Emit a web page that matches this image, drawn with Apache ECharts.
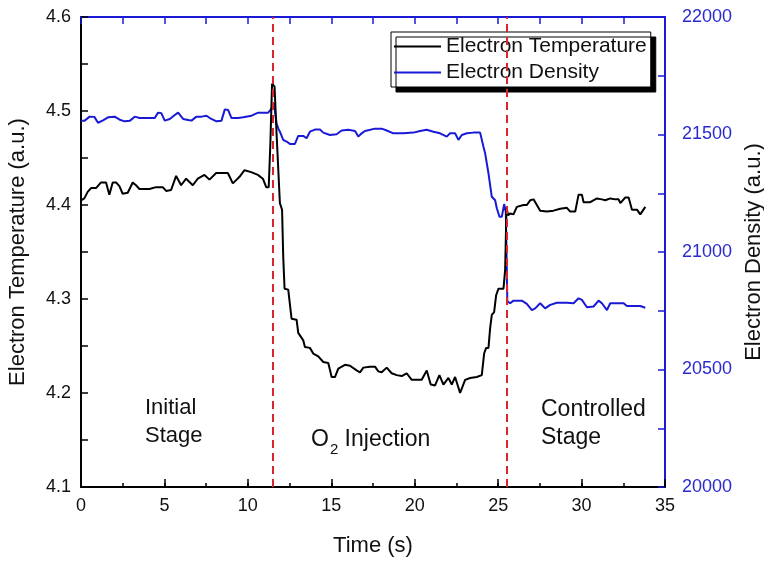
<!DOCTYPE html>
<html>
<head>
<meta charset="utf-8">
<script src="https://cdn.jsdelivr.net/npm/echarts@6/dist/echarts.min.js"></script>
<style>html,body{margin:0;padding:0;background:#fff;overflow:hidden;width:764px;height:563px}#c{position:absolute;left:0;top:0;width:764px;height:563px}</style>
</head>
<body>
<div id="c"></div>
<script>
// Electron temperature (left axis)
var tempTime = [0.0,0.2,0.4,0.6,0.9,1.2,1.5,1.7,1.9,2.1,2.3,2.5,2.8,3.1,3.3,3.5,4.1,4.5,4.9,5.1,5.4,5.7,6.0,6.3,6.7,7.0,7.4,7.7,8.1,8.5,8.8,9.1,9.5,9.8,10.2,10.6,10.9,11.1,11.25,11.35,11.45,11.6,11.72,11.92,12.05,12.12,12.2,12.42,12.62,12.92,13.02,13.32,13.42,13.72,13.92,14.22,14.52,14.82,14.9,15.02,15.22,15.42,15.82,16.12,16.52,16.72,16.92,17.32,17.62,17.82,18.02,18.32,18.62,18.92,19.22,19.52,19.82,20.42,20.72,20.96,21.22,21.48,21.72,22.02,22.22,22.42,22.72,22.82,23.02,23.32,23.72,24.02,24.16,24.28,24.42,24.52,24.62,24.76,24.88,25.02,25.32,25.42,25.5,25.6,25.72,25.92,26.12,26.52,26.72,26.92,27.12,27.32,27.52,27.92,28.32,28.72,29.12,29.32,29.62,29.82,30.02,30.12,30.52,30.92,31.22,31.42,31.72,32.02,32.22,32.32,32.62,32.82,33.02,33.32,33.52,33.62,33.82];
var tempValues = [4.405,4.407,4.414,4.418,4.418,4.424,4.424,4.411,4.424,4.424,4.420,4.412,4.413,4.424,4.421,4.417,4.417,4.419,4.419,4.415,4.416,4.431,4.421,4.428,4.421,4.428,4.432,4.427,4.434,4.434,4.434,4.423,4.430,4.437,4.435,4.432,4.428,4.419,4.419,4.466,4.529,4.526,4.476,4.402,4.395,4.345,4.311,4.310,4.279,4.278,4.264,4.256,4.249,4.248,4.242,4.239,4.233,4.232,4.226,4.217,4.217,4.226,4.230,4.229,4.224,4.222,4.227,4.228,4.228,4.223,4.222,4.227,4.221,4.219,4.218,4.221,4.214,4.214,4.224,4.209,4.208,4.219,4.209,4.216,4.209,4.217,4.200,4.200,4.214,4.216,4.217,4.219,4.242,4.248,4.248,4.269,4.283,4.286,4.304,4.311,4.311,4.331,4.397,4.389,4.391,4.390,4.398,4.400,4.400,4.405,4.406,4.400,4.394,4.393,4.394,4.396,4.397,4.393,4.393,4.411,4.411,4.403,4.403,4.407,4.406,4.405,4.407,4.406,4.406,4.402,4.408,4.408,4.395,4.395,4.390,4.392,4.398];

// Electron density (right axis)
var densTime = [0.0,0.22,0.52,0.8,1.02,1.32,1.62,2.02,2.32,2.62,2.92,3.22,3.52,4.02,4.42,4.62,4.82,5.02,5.32,5.62,5.82,6.12,6.42,6.62,6.92,7.22,7.52,7.72,8.12,8.42,8.62,8.82,9.02,9.42,9.72,10.22,10.62,11.22,11.38,11.56,11.72,11.82,11.92,12.12,12.32,12.52,12.82,13.02,13.32,13.52,13.72,14.02,14.32,14.52,14.92,15.32,15.62,16.02,16.42,16.62,16.82,17.02,17.62,18.02,18.32,18.72,19.32,19.92,20.32,20.72,21.12,21.52,21.92,22.12,22.42,22.62,22.82,23.12,23.52,23.92,24.12,24.22,24.42,24.62,24.82,24.92,25.08,25.22,25.36,25.46,25.55,25.62,25.72,25.92,26.42,26.72,27.02,27.22,27.52,27.82,28.12,28.52,29.12,29.52,29.82,30.02,30.32,30.72,31.02,31.22,31.52,31.72,32.52,32.72,33.52,33.82];
var densValues = [21559,21559,21576,21575,21550,21560,21573,21576,21563,21556,21558,21576,21570,21570,21570,21593,21590,21559,21566,21583,21593,21566,21562,21559,21576,21576,21580,21570,21556,21559,21607,21604,21570,21570,21573,21580,21593,21593,21607,21633,21548,21526,21512,21477,21470,21460,21460,21494,21494,21484,21512,21521,21521,21508,21498,21501,21517,21520,21515,21491,21505,21515,21525,21525,21517,21505,21505,21508,21515,21520,21512,21505,21491,21505,21505,21477,21498,21505,21508,21508,21448,21420,21335,21235,21220,21186,21150,21150,21204,21170,20790,20789,20782,20793,20793,20779,20753,20760,20782,20760,20775,20784,20784,20782,20803,20796,20765,20768,20793,20782,20753,20782,20782,20770,20770,20763];

// Stage boundaries (s)
var stageBoundaries = [11.5, 25.5];

var FONT = '"Liberation Sans", Arial, sans-serif';
var BLUE = '#1a1ad6';
var BLUE_TXT = '#2a2ad0';

function pairs(t, v) { return t.map(function (x, i) { return [x, v[i]]; }); }

var chart = echarts.init(document.getElementById('c'), null, { renderer: 'canvas', width: 764, height: 563 });
chart.setOption({
  animation: false,
  backgroundColor: '#fff',
  textStyle: { fontFamily: FONT },
  grid: { left: 81, right: 99, top: 17, bottom: 76, containLabel: false, outerBoundsMode: 'none' },
  legend: {
    orient: 'vertical',
    left: 391, top: 32,
    padding: [4, 4, 4, 3],
    itemGap: 5,
    itemWidth: 47,
    itemHeight: 2,
    icon: 'rect',
    backgroundColor: '#fff',
    borderColor: '#000',
    borderWidth: 1,
    shadowColor: '#000',
    shadowBlur: 0,
    shadowOffsetX: 5,
    shadowOffsetY: 5,
    textStyle: { fontFamily: FONT, fontSize: 21, color: '#111', padding: [0, 0, 0, 0] },
    data: ['Electron Temperature', 'Electron Density']
  },
  xAxis: [{
    type: 'value', min: 0, max: 35, interval: 5,
    name: 'Time (s)', nameLocation: 'middle', nameGap: 48,
    nameTextStyle: { fontFamily: FONT, fontSize: 22, color: '#111' },
    axisLine: { onZero: false, lineStyle: { color: '#000', width: 2 } },
    axisTick: { inside: true, length: 8, lineStyle: { color: '#000', width: 1.5 } },
    axisLabel: { fontFamily: FONT, fontSize: 18, color: '#111', margin: 10 },
    splitLine: { show: false }
  }, {
    type: 'value', min: 0, max: 35, interval: 2.5, position: 'top',
    axisLine: { onZero: false, lineStyle: { color: BLUE, width: 2 } },
    axisTick: { inside: true, length: 7, lineStyle: { color: BLUE, width: 1.5 } },
    axisLabel: { show: false },
    splitLine: { show: false }
  }, {
    type: 'value', min: 0, max: 35, interval: 2.5, position: 'bottom',
    axisLine: { show: false, onZero: false },
    axisTick: { inside: true, length: 4, lineStyle: { color: '#000', width: 1.5 } },
    axisLabel: { show: false },
    splitLine: { show: false }
  }],
  yAxis: [{
    type: 'value', min: 4.1, max: 4.6, interval: 0.05, position: 'left',
    name: 'Electron Temperature (a.u.)', nameLocation: 'middle', nameGap: 52,
    nameTextStyle: { fontFamily: FONT, fontSize: 22, color: '#111' },
    axisLine: { show: true, onZero: false, lineStyle: { color: '#000', width: 2 } },
    axisTick: { show: true, inside: true, length: 7, lineStyle: { color: '#000', width: 1.5 } },
    axisLabel: { fontFamily: FONT, fontSize: 18, color: '#111', margin: 10,
      formatter: function (v) { return Math.round(v * 100) % 10 === 0 ? v.toFixed(1) : ''; } },
    splitLine: { show: false }
  }, {
    type: 'value', min: 20000, max: 22000, interval: 250, position: 'right',
    name: 'Electron Density (a.u.)', nameLocation: 'middle', nameGap: 71,
    nameTextStyle: { fontFamily: FONT, fontSize: 22, color: '#111' },
    axisLine: { show: true, onZero: false, lineStyle: { color: BLUE, width: 2 } },
    axisTick: { show: true, inside: true, length: 7, lineStyle: { color: BLUE, width: 1.5 } },
    axisLabel: { fontFamily: FONT, fontSize: 18, color: BLUE_TXT, margin: 17,
      formatter: function (v) { return Math.round(v) % 500 === 0 ? String(Math.round(v)) : ''; } },
    splitLine: { show: false }
  }],
  series: [{
    name: 'Electron Temperature', type: 'line', xAxisIndex: 0, yAxisIndex: 0,
    data: pairs(tempTime, tempValues), symbol: 'none', showSymbol: false,
    lineStyle: { color: '#000', width: 2 }, itemStyle: { color: '#000' }, z: 3
  }, {
    name: 'Electron Density', type: 'line', xAxisIndex: 0, yAxisIndex: 1,
    data: pairs(densTime, densValues), symbol: 'none', showSymbol: false,
    lineStyle: { color: BLUE, width: 2 }, itemStyle: { color: BLUE }, z: 2,
    markLine: {
      silent: true, symbol: ['none', 'none'], animation: false,
      label: { show: false },
      lineStyle: { color: '#d8262a', width: 2, type: [8, 5] },
      data: stageBoundaries.map(function (x) { return { xAxis: x }; }),
      z: 5
    }
  }],
  graphic: [
    { type: 'text', left: 145, top: 394, z: 10,
      style: { text: 'Initial\nStage', font: '22px ' + FONT, fill: '#111', lineHeight: 28 } },
    { type: 'text', left: 541, top: 396, z: 10,
      style: { text: 'Controlled\nStage', font: '23px ' + FONT, fill: '#111', lineHeight: 28 } },
    { type: 'text', left: 311, top: 423, z: 10,
      style: {
        text: '{a|O}{s|2}{a| Injection}', fill: '#111',
        rich: {
          a: { fontFamily: FONT, fontSize: 23, lineHeight: 34, verticalAlign: 'middle', fill: '#111' },
          s: { fontFamily: FONT, fontSize: 15, lineHeight: 15, padding: [19, 0, 0, 1], verticalAlign: 'bottom', fill: '#111' }
        }
      } }
  ]
});
</script>
</body>
</html>
